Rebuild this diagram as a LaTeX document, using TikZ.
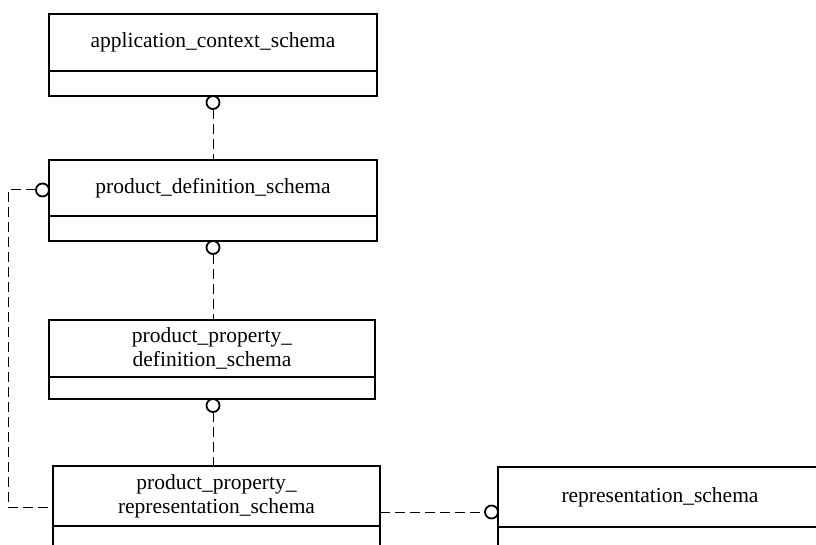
\documentclass[tikz,border=0pt]{standalone}
\usepackage{fontspec}
\setmainfont{Liberation Serif}
\usepackage{tikz}

\begin{document}
\begin{tikzpicture}[x=1pt, y=-1pt,
    schema/.style={draw, line width=2.2pt, outer sep=0pt, minimum width=328pt, minimum height=57pt,
        inner sep=0pt, align=center, font=\fontsize{21.5}{24}\selectfont},
    attr/.style={draw, line width=2.2pt, outer sep=0pt, minimum width=328pt, minimum height=25pt, inner sep=0pt},
    ring/.style={circle, draw, line width=1.8pt, outer sep=0pt, minimum size=13pt, inner sep=0pt},
    link/.style={line width=1pt, dash pattern=on 10pt off 5pt}]
    \useasboundingbox (0,0) rectangle (816,545);

    % schema boxes
    \node[schema] (acs) at (213,42.5) {application\_context\_schema};
    \node[attr, anchor=north] (acs-a) at (acs.south) {};

    \node[schema, minimum height=56pt] (pds) at (213,188) {product\_definition\_schema};
    \node[attr, anchor=north] (pds-a) at (pds.south) {};

    \node[schema, minimum width=326pt] (ppds) at (212,348.5) {product\_property\_\\definition\_schema};
    \node[attr, anchor=north, minimum width=326pt, minimum height=22pt] (ppds-a) at (ppds.south) {};

    \node[schema, minimum width=327pt, minimum height=60pt] (pprs) at (216.5,496) {product\_property\_\\representation\_schema};
    \node[attr, anchor=north, minimum width=327pt, minimum height=40pt] (pprs-a) at (pprs.south) {};

    \node[schema, minimum width=324pt, minimum height=60pt] (rs) at (660,497) {representation\_schema};
    \node[attr, anchor=north, minimum width=324pt, minimum height=40pt] (rs-a) at (rs.south) {};

    % rings
    \node[ring, anchor=north] (r1) at (acs-a.south) {};
    \node[ring, anchor=north] (r2) at (pds-a.south) {};
    \node[ring, anchor=north] (r3) at ([xshift=1pt]ppds-a.south) {};
    \node[ring, anchor=east] (r4) at ([yshift=-2pt]pds.west) {};
    \node[ring, anchor=east] (r5) at ([yshift=-15pt]rs.west) {};

    % references
    \draw[link] (r1.south) -- (r1.south |- pds.north);
    \draw[link] (r2.south) -- (r2.south |- ppds.north);
    \draw[link] (r3.south) -- (r3.south |- pprs.north);
    \draw[link] (r4.west) -- ++(-28,0) |- ([yshift=-11pt]pprs.west);
    \draw[link] (pprs.east |- r5) -- (r5.west);
\end{tikzpicture}
\end{document}
